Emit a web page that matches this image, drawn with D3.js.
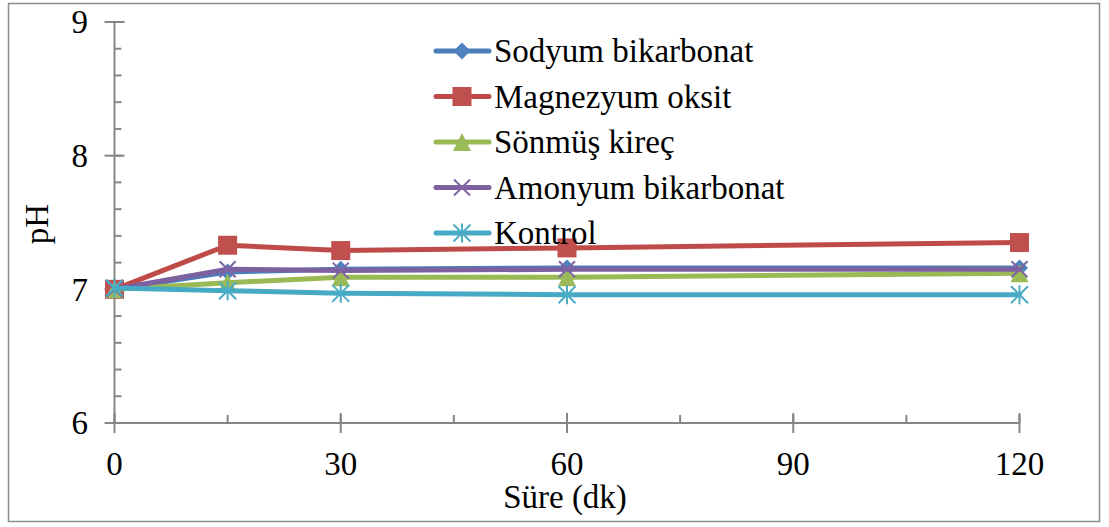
<!DOCTYPE html>
<html>
<head>
<meta charset="utf-8">
<script src="https://cdn.jsdelivr.net/npm/d3@7"></script>
<style>
  html, body { margin: 0; padding: 0; background: #fff; }
  svg text { font-family: "Liberation Serif", "Times New Roman", serif; fill: #000; }
</style>
</head>
<body>
<svg id="chart" width="1109" height="527"></svg>
<script>
// pH over time (minutes) for each treatment
const times = [0, 15, 30, 60, 120];
const seriesNames = ["Sodyum bikarbonat", "Magnezyum oksit", "Sönmüş kireç", "Amonyum bikarbonat", "Kontrol"];
const sodyumBikarbonat = [7.0, 7.13, 7.15, 7.16, 7.16];
const magnezyumOksit   = [7.0, 7.33, 7.29, 7.31, 7.35];
const sonmusKirec      = [7.0, 7.05, 7.09, 7.09, 7.12];
const amonyumBikarbonat= [7.0, 7.15, 7.14, 7.15, 7.15];
const kontrol          = [7.01, 6.99, 6.97, 6.96, 6.96];
const xTicks = [0, 30, 60, 90, 120];
const yTicks = [6, 7, 8, 9];

const seriesValues = [sodyumBikarbonat, magnezyumOksit, sonmusKirec, amonyumBikarbonat, kontrol];
const lineColors   = ["#4A7EBB", "#BE4B48", "#98B954", "#7D60A0", "#46AAC5"];
const markerColors = ["#4F81BD", "#C0504D", "#9BBB59", "#8064A2", "#4BACC6"];
const markerKinds  = ["diamond", "square", "triangle", "x", "star"];

const svg = d3.select("#chart");
const axisColor = "#868686";

// outer chart frame
svg.append("rect")
  .attr("x", 8.5).attr("y", 3.5).attr("width", 1091).attr("height", 518)
  .attr("fill", "none").attr("stroke", "#8c8c8c").attr("stroke-width", 1.5);

const x = d3.scaleLinear().domain([0, 120]).range([114.5, 1019.5]);
const y = d3.scaleLinear().domain([6, 9]).range([423, 22]);

// y axis: minor ticks inside, major ticks crossing
const yAxisG = svg.append("g");
yAxisG.append("line")
  .attr("x1", x(0)).attr("x2", x(0)).attr("y1", y(6)).attr("y2", y(9))
  .attr("stroke", axisColor).attr("stroke-width", 2);
const yMinor = d3.range(6, 9.0001, 0.2);
yAxisG.selectAll(".ymin").data(yMinor).join("line")
  .attr("x1", x(0)).attr("x2", x(0) + 7)
  .attr("y1", d => y(d)).attr("y2", d => y(d))
  .attr("stroke", axisColor).attr("stroke-width", 2);
yAxisG.selectAll(".ymaj").data(yTicks).join("line")
  .attr("x1", x(0) - 10).attr("x2", x(0) + 10)
  .attr("y1", d => y(d)).attr("y2", d => y(d))
  .attr("stroke", axisColor).attr("stroke-width", 2);
yAxisG.selectAll(".ylab").data(yTicks).join("text")
  .attr("x", 88).attr("y", d => y(d))
  .attr("dy", "0.34em")
  .attr("text-anchor", "end")
  .attr("font-size", 33)
  .text(d => d);

// x axis
const xAxisG = svg.append("g");
xAxisG.append("line")
  .attr("x1", x(0)).attr("x2", x(120)).attr("y1", y(6)).attr("y2", y(6))
  .attr("stroke", axisColor).attr("stroke-width", 2);
const xMinor = d3.range(0, 120.001, 15);
xAxisG.selectAll(".xmin").data(xMinor).join("line")
  .attr("x1", d => x(d)).attr("x2", d => x(d))
  .attr("y1", y(6) - 8).attr("y2", y(6))
  .attr("stroke", axisColor).attr("stroke-width", 2);
xAxisG.selectAll(".xmaj").data(xTicks).join("line")
  .attr("x1", d => x(d)).attr("x2", d => x(d))
  .attr("y1", y(6) - 10).attr("y2", y(6) + 10)
  .attr("stroke", axisColor).attr("stroke-width", 2);
xAxisG.selectAll(".xlab").data(xTicks).join("text")
  .attr("x", d => x(d)).attr("y", 475)
  .attr("text-anchor", "middle")
  .attr("font-size", 33)
  .text(d => d);

// axis titles
svg.append("text")
  .attr("x", 565).attr("y", 508)
  .attr("text-anchor", "middle").attr("font-size", 33)
  .text("Süre (dk)");
svg.append("text")
  .attr("transform", "translate(48,224) rotate(-90)")
  .attr("text-anchor", "middle").attr("font-size", 33)
  .text("pH");

// marker drawing
function drawMarker(g, kind, cx, cy, color) {
  if (kind === "diamond") {
    const s = 8.5;
    g.append("path").attr("d", `M${cx},${cy - s}L${cx + s},${cy}L${cx},${cy + s}L${cx - s},${cy}Z`)
      .attr("fill", color);
  } else if (kind === "square") {
    const s = 9.5;
    g.append("rect").attr("x", cx - s).attr("y", cy - s).attr("width", 2 * s).attr("height", 2 * s)
      .attr("fill", color);
  } else if (kind === "triangle") {
    const s = 9;
    g.append("path").attr("d", `M${cx},${cy - s}L${cx + s},${cy + s}L${cx - s},${cy + s}Z`)
      .attr("fill", color);
  } else if (kind === "x") {
    const s = 8;
    g.append("path").attr("d", `M${cx - s},${cy - s}L${cx + s},${cy + s}M${cx + s},${cy - s}L${cx - s},${cy + s}`)
      .attr("stroke", color).attr("stroke-width", 2).attr("fill", "none");
  } else if (kind === "star") {
    const s = 8.5;
    g.append("path").attr("d", `M${cx - s},${cy - s}L${cx + s},${cy + s}M${cx + s},${cy - s}L${cx - s},${cy + s}M${cx},${cy - s - 1}L${cx},${cy + s + 1}`)
      .attr("stroke", color).attr("stroke-width", 2).attr("fill", "none");
  }
}

// series lines and markers
const line = d3.line().x(d => x(d[0])).y(d => y(d[1]));
seriesValues.forEach((vals, i) => {
  const pts = times.map((t, j) => [t, vals[j]]);
  const g = svg.append("g");
  g.append("path").attr("d", line(pts))
    .attr("fill", "none").attr("stroke", lineColors[i]).attr("stroke-width", 5)
    .attr("stroke-linejoin", "round").attr("stroke-linecap", "round");
  pts.forEach(p => drawMarker(g, markerKinds[i], x(p[0]), y(p[1]), markerColors[i]));
});

// legend
const legend = svg.append("g");
seriesNames.forEach((name, i) => {
  const ly = 51 + i * 45.5;
  legend.append("line")
    .attr("x1", 436).attr("x2", 489).attr("y1", ly).attr("y2", ly)
    .attr("stroke", lineColors[i]).attr("stroke-width", 5).attr("stroke-linecap", "round");
  drawMarker(legend, markerKinds[i], 462, ly, markerColors[i]);
  legend.append("text")
    .attr("x", 494).attr("y", ly).attr("dy", "0.34em")
    .attr("font-size", 33)
    .text(name);
});
</script>
</body>
</html>
